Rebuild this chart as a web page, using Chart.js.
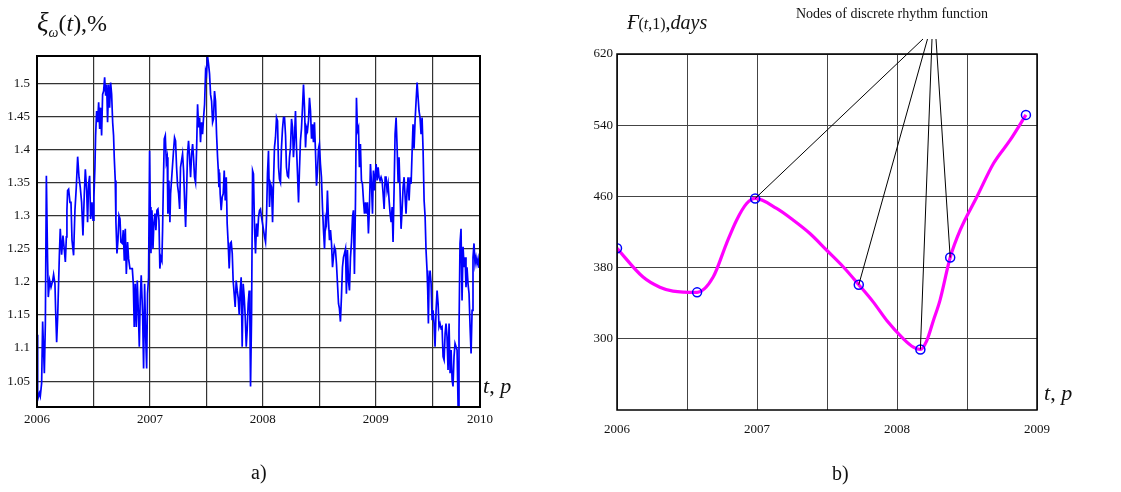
<!DOCTYPE html>
<html>
<head>
<meta charset="utf-8">
<script src="https://cdn.jsdelivr.net/npm/chart.js@4.4.0/dist/chart.umd.min.js"></script>
<style>
  body { margin: 0; background: #fff; }
  #wrap { position: relative; width: 1121px; height: 492px; overflow: hidden; font-family: "Liberation Serif", "Times New Roman", serif; color: #111; }
  canvas { position: absolute; top: 0; }
  .txt { position: absolute; line-height: 1; white-space: nowrap; }
</style>
</head>
<body>
<div id="wrap">
  <canvas id="chartA" width="560" height="492" style="left:0"></canvas>
  <canvas id="chartB" width="561" height="492" style="left:560px"></canvas>

  <div class="txt" style="left:37px;top:9px;font-size:24px"><i style="font-size:27px">ξ</i><sub style="font-size:14px"><i>ω</i></sub>(<i>t</i>),%</div>
  <div class="txt" style="left:483px;top:375px;font-size:22px"><i>t</i>, <i>p</i></div>
  <div class="txt" style="left:251px;top:462px;font-size:20px">a)</div>

  <div class="txt" style="left:627px;top:12px;font-size:20px"><i>Ғ</i><span style="font-size:16px">(<i>t</i>,1)</span>,<i>days</i></div>
  <div class="txt" style="left:796px;top:7px;font-size:14px">Nodes of discrete rhythm function</div>
  <div class="txt" style="left:1044px;top:382px;font-size:22px"><i>t</i>, <i>p</i></div>
  <div class="txt" style="left:832px;top:463px;font-size:20px">b)</div>
</div>

<script>
// ---- chart a): xi_omega(t), % ----
let tA06 = [2006.000,2006.006,2006.021,2006.029,2006.041,2006.050,2006.065,2006.074,2006.083,2006.094,2006.100,2006.112,2006.124,2006.139,2006.147,2006.159,2006.165,2006.174,2006.183,2006.198,
  2006.206,2006.218,2006.230,2006.242,2006.251,2006.260,2006.265,2006.271,2006.280,2006.292,2006.301,2006.310,2006.324,2006.336,2006.348,2006.360,2006.372,2006.383,2006.395,2006.407,
  2006.419,2006.428,2006.440,2006.448,2006.457,2006.466,2006.475,2006.487,2006.496,2006.504,2006.513,2006.519,2006.528,2006.537,2006.546,2006.555,2006.563,2006.572,2006.581,2006.590,
  2006.599,2006.608,2006.617,2006.625,2006.634,2006.643,2006.652,2006.661,2006.670,2006.678,2006.684,2006.693,2006.699,2006.708,2006.717,2006.726,2006.735,2006.743,2006.755,2006.764,
  2006.773,2006.782,2006.791,2006.802,2006.811,2006.823,2006.832,2006.844,2006.853,2006.861,2006.870,2006.879,2006.888,2006.897,2006.906,2006.914,2006.923,2006.935,2006.944,2006.953,
  2006.962,2006.971,2006.979,2006.988];
let vA06 = [1.120,1.022,1.032,1.027,1.047,1.140,1.062,1.137,1.360,1.230,1.177,1.202,1.192,1.202,1.211,1.197,1.157,1.109,1.147,1.240,
  1.280,1.241,1.270,1.248,1.230,1.268,1.308,1.338,1.340,1.320,1.320,1.263,1.240,1.308,1.343,1.389,1.358,1.343,1.320,1.270,
  1.333,1.370,1.338,1.290,1.348,1.360,1.295,1.320,1.293,1.328,1.373,1.421,1.458,1.441,1.471,1.431,1.463,1.421,1.483,1.488,
  1.509,1.481,1.498,1.441,1.498,1.463,1.501,1.483,1.441,1.421,1.388,1.353,1.290,1.243,1.263,1.300,1.295,1.260,1.258,1.278,
  1.232,1.280,1.212,1.260,1.235,1.220,1.220,1.220,1.197,1.132,1.197,1.132,1.202,1.157,1.102,1.172,1.210,1.152,1.069,1.197,
  1.120,1.069,1.182,1.207];

let tA07 = [2006.997,2007.003,2007.009,2007.018,2007.027,2007.035,2007.044,2007.053,2007.062,2007.071,2007.080,2007.088,2007.097,2007.106,2007.112,2007.118,2007.127,2007.136,2007.145,2007.153,
  2007.159,2007.168,2007.177,2007.183,2007.192,2007.201,2007.209,2007.218,2007.227,2007.236,2007.245,2007.254,2007.263,2007.271,2007.280,2007.289,2007.298,2007.307,2007.316,2007.324,
  2007.333,2007.342,2007.351,2007.360,2007.369,2007.378,2007.386,2007.395,2007.404,2007.413,2007.422,2007.431,2007.440,2007.448,2007.457,2007.466,2007.475,2007.484,2007.493,2007.501,
  2007.510,2007.519,2007.528,2007.537,2007.546,2007.555,2007.563,2007.572,2007.581,2007.590,2007.599,2007.605,2007.611,2007.617,2007.622,2007.631,2007.640,2007.649,2007.658,2007.667,
  2007.676,2007.684,2007.693,2007.702,2007.711,2007.720,2007.729,2007.737,2007.746,2007.755,2007.764,2007.773,2007.782,2007.791,2007.799,2007.808,2007.817,2007.826,2007.835,2007.844,
  2007.853,2007.861,2007.870,2007.879,2007.885,2007.891,2007.900,2007.909,2007.917,2007.926,2007.935,2007.944,2007.953,2007.962,2007.971,2007.979,2007.988];
let vA07 = [1.398,1.313,1.243,1.308,1.250,1.288,1.303,1.278,1.308,1.310,1.293,1.220,1.237,1.232,1.278,1.338,1.416,1.421,1.381,1.388,
  1.303,1.353,1.290,1.333,1.355,1.378,1.398,1.418,1.413,1.373,1.345,1.333,1.310,1.373,1.383,1.393,1.368,1.323,1.283,1.333,
  1.393,1.413,1.388,1.358,1.393,1.408,1.388,1.358,1.350,1.398,1.468,1.433,1.448,1.411,1.441,1.423,1.448,1.468,1.519,1.514,
  1.541,1.529,1.514,1.483,1.473,1.441,1.446,1.488,1.473,1.423,1.388,1.370,1.343,1.365,1.333,1.308,1.328,1.333,1.368,1.323,
  1.358,1.288,1.258,1.220,1.258,1.260,1.243,1.202,1.182,1.162,1.202,1.187,1.175,1.150,1.187,1.207,1.102,1.197,1.177,1.147,
  1.102,1.127,1.167,1.187,1.147,1.042,1.147,1.368,1.363,1.283,1.243,1.288,1.268,1.298,1.308,1.310,1.298];

let tA08 = [2008.006,2008.015,2008.024,2008.032,2008.041,2008.050,2008.059,2008.068,2008.077,2008.086,2008.094,2008.103,2008.112,2008.121,2008.130,2008.139,2008.147,2008.156,2008.165,2008.174,
  2008.183,2008.192,2008.201,2008.209,2008.218,2008.227,2008.236,2008.245,2008.254,2008.263,2008.271,2008.280,2008.289,2008.298,2008.307,2008.316,2008.324,2008.333,2008.342,2008.351,
  2008.360,2008.369,2008.378,2008.386,2008.395,2008.404,2008.413,2008.422,2008.431,2008.440,2008.448,2008.457,2008.466,2008.475,2008.484,2008.493,2008.501,2008.510,2008.519,2008.528,
  2008.537,2008.546,2008.555,2008.563,2008.572,2008.581,2008.590,2008.599,2008.608,2008.617,2008.625,2008.634,2008.643,2008.652,2008.661,2008.670,2008.678,2008.687,2008.696,2008.705,
  2008.714,2008.723,2008.732,2008.740,2008.749,2008.758,2008.767,2008.776,2008.785,2008.794,2008.802,2008.811,2008.820,2008.829,2008.838,2008.847,2008.855,2008.864,2008.873,2008.882,
  2008.891,2008.900,2008.909,2008.917,2008.926,2008.935,2008.944,2008.953,2008.962,2008.971,2008.979,2008.988];
let vA08 = [1.278,1.268,1.260,1.293,1.363,1.398,1.313,1.348,1.343,1.290,1.348,1.403,1.418,1.448,1.443,1.373,1.355,1.350,1.403,1.431,
  1.448,1.448,1.421,1.373,1.360,1.358,1.388,1.403,1.446,1.433,1.388,1.416,1.458,1.403,1.363,1.320,1.368,1.413,1.431,1.463,
  1.498,1.463,1.403,1.433,1.428,1.443,1.478,1.458,1.416,1.438,1.411,1.441,1.398,1.345,1.368,1.401,1.408,1.378,1.358,1.313,
  1.278,1.250,1.295,1.288,1.338,1.293,1.263,1.278,1.258,1.222,1.237,1.253,1.248,1.227,1.197,1.167,1.160,1.140,1.177,1.222,
  1.237,1.243,1.250,1.182,1.248,1.202,1.187,1.237,1.260,1.298,1.308,1.212,1.318,1.478,1.428,1.433,1.373,1.408,1.353,1.348,
  1.323,1.303,1.320,1.303,1.320,1.273,1.313,1.378,1.348,1.303,1.368,1.338];

let tA09 = [2008.994,2009.003,2009.012,2009.021,2009.029,2009.038,2009.047,2009.056,2009.065,2009.074,2009.083,2009.091,2009.100,2009.109,2009.118,2009.127,2009.136,2009.145,2009.153,2009.162,
  2009.171,2009.180,2009.189,2009.198,2009.206,2009.215,2009.224,2009.233,2009.242,2009.251,2009.260,2009.268,2009.277,2009.286,2009.295,2009.304,2009.313,2009.322,2009.330,2009.339,
  2009.348,2009.357,2009.366,2009.375,2009.383,2009.392,2009.401,2009.410,2009.419,2009.428,2009.437,2009.445,2009.454,2009.460,2009.466,2009.472,2009.481,2009.490,2009.499,2009.507,
  2009.516,2009.525,2009.534,2009.543,2009.552,2009.560,2009.569,2009.578,2009.587,2009.596,2009.605,2009.614,2009.622,2009.631,2009.640,2009.649,2009.658,2009.667,2009.676,2009.684,
  2009.693,2009.702,2009.711,2009.720,2009.729,2009.737,2009.746,2009.755,2009.764,2009.773,2009.782,2009.791,2009.799,2009.808,2009.817,2009.826,2009.835,2009.844,2009.853,2009.861,
  2009.870,2009.879,2009.888,2009.897,2009.906,2009.914,2009.923];
let vA09 = [1.358,1.378,1.353,1.373,1.358,1.353,1.358,1.353,1.333,1.310,1.358,1.358,1.338,1.348,1.323,1.303,1.290,1.313,1.260,1.338,
  1.423,1.448,1.403,1.350,1.388,1.338,1.280,1.308,1.343,1.358,1.328,1.303,1.338,1.358,1.323,1.358,1.348,1.398,1.438,1.401,
  1.443,1.473,1.501,1.478,1.458,1.448,1.423,1.448,1.398,1.323,1.298,1.248,1.217,1.187,1.137,1.202,1.217,1.197,1.142,1.157,
  1.137,1.102,1.157,1.187,1.167,1.132,1.137,1.130,1.132,1.087,1.082,1.122,1.137,1.117,1.067,1.137,1.062,1.097,1.052,1.042,
  1.087,1.107,1.102,1.097,1.011,1.127,1.258,1.280,1.172,1.253,1.222,1.237,1.192,1.222,1.197,1.182,1.132,1.092,1.157,1.237,
  1.258,1.227,1.237,1.227,1.235,1.222,1.222];

let xGridA = [2006, 2006.5, 2007, 2007.5, 2008, 2008.5, 2009, 2009.5, 2009.923];
let xLabelPosA = [2006, 2007, 2008, 2009, 2009.923];
let xLabelsA = ['2006', '2007', '2008', '2009', '2010'];
let yTicksA = [1.05, 1.1, 1.15, 1.2, 1.25, 1.3, 1.35, 1.4, 1.45, 1.5];
let yLabelsA = ['1.05', '1.1', '1.15', '1.2', '1.25', '1.3', '1.35', '1.4', '1.45', '1.5'];

// ---- chart b): rhythm function, days ----
let nodeT = [2006.000, 2006.572, 2006.987, 2007.727, 2008.167, 2008.380, 2008.921];
let nodeV = [401.7, 352.2, 457.7, 360.8, 288.0, 391.3, 551.6];
let curveT = [2006.000, 2006.186, 2006.306, 2006.400, 2006.572, 2006.687, 2006.782, 2006.854, 2006.926, 2006.987,
  2007.140, 2007.259, 2007.378, 2007.498, 2007.617, 2007.727, 2007.831, 2007.927, 2008.046, 2008.117,
  2008.167, 2008.213, 2008.260, 2008.307, 2008.380, 2008.451, 2008.571, 2008.690, 2008.809, 2008.921];
let curveV = [401.7, 369.4, 358.0, 353.6, 352.2, 369.4, 407.0, 433.3, 452.0, 457.7,
  446.5, 433.3, 418.3, 399.5, 380.7, 360.8, 341.2, 320.6, 300.0, 290.6,
  288.0, 298.0, 320.6, 343.2, 391.3, 422.0, 459.6, 497.2, 523.4, 551.6];
let annotatedNodes = [2, 3, 4, 5];

let xGridB = [2006, 2006.5, 2007, 2007.5, 2008, 2008.5, 2009];
let xLabelPosB = [2006, 2007, 2008, 2009];
let xLabelsB = ['2006', '2007', '2008', '2009'];
let yTicksB = [300, 380, 460, 540, 620];

Chart.defaults.font.family = '"Liberation Serif", "Times New Roman", serif';
Chart.defaults.font.size = 13;
Chart.defaults.color = '#111';

const framePlugin = {
  id: 'frame',
  afterDatasetsDraw(chart, args, opts) {
    const a = chart.chartArea, ctx = chart.ctx;
    ctx.save();
    ctx.strokeStyle = '#000';
    ctx.lineWidth = opts.width || 1.5;
    ctx.strokeRect(a.left, a.top, a.right - a.left, a.bottom - a.top);
    ctx.restore();
  }
};

// leader lines from the caption to the marked nodes
const leaderPlugin = {
  id: 'leaders',
  afterDatasetsDraw(chart) {
    const meta = chart.getDatasetMeta(0);
    const anchorsX = [363, 367.5, 372, 376];
    const anchorY = 39;
    const ctx = chart.ctx;
    ctx.save();
    ctx.strokeStyle = '#000';
    ctx.lineWidth = 1;
    annotatedNodes.forEach((n, i) => {
      const p = meta.data[n];
      ctx.beginPath();
      ctx.moveTo(anchorsX[i], anchorY);
      ctx.lineTo(p.x, p.y);
      ctx.stroke();
    });
    ctx.restore();
  }
};

function labelFor(positions, labels) {
  return function (value) {
    const i = positions.findIndex(p => Math.abs(p - value) < 1e-6);
    return i >= 0 ? labels[i] : '';
  };
}

function createCharts() {
  const tA = [...tA06, ...tA07, ...tA08, ...tA09];
  const vA = [...vA06, ...vA07, ...vA08, ...vA09];

  new Chart(document.getElementById('chartA'), {
    type: 'line',
    data: {
      datasets: [{
        data: tA.map((t, i) => ({ x: t, y: vA[i] })),
        borderColor: '#0000ff',
        borderWidth: 1.7,
        pointRadius: 0,
        tension: 0
      }]
    },
    options: {
      responsive: false,
      animation: false,
      layout: { padding: { top: 56, left: 0, right: 80, bottom: 55 } },
      plugins: { legend: { display: false }, tooltip: { enabled: false }, frame: { width: 2 } },
      scales: {
        x: {
          type: 'linear', min: 2006, max: 2009.923,
          afterBuildTicks: s => { s.ticks = xGridA.map(v => ({ value: v })); },
          afterFit: s => { s.height = 30; },
          ticks: { autoSkip: false, maxRotation: 0, padding: 5, callback: labelFor(xLabelPosA, xLabelsA) },
          grid: { color: '#333', lineWidth: 1.2, drawTicks: false },
          border: { display: false }
        },
        y: {
          min: 1.011, max: 1.541,
          afterBuildTicks: s => { s.ticks = yTicksA.map(v => ({ value: v })); },
          afterFit: s => { s.width = 37; },
          ticks: { padding: 7, callback: labelFor(yTicksA, yLabelsA) },
          grid: { color: '#333', lineWidth: 1.3, drawTicks: false },
          border: { display: false }
        }
      }
    },
    plugins: [framePlugin]
  });

  new Chart(document.getElementById('chartB'), {
    type: 'line',
    data: {
      datasets: [{
        data: nodeT.map((t, i) => ({ x: t, y: nodeV[i] })),
        showLine: false,
        pointStyle: 'circle',
        pointRadius: 4.5,
        pointBorderWidth: 1.5,
        pointBorderColor: '#0000ff',
        pointBackgroundColor: 'rgba(0,0,0,0)'
      }, {
        data: curveT.map((t, i) => ({ x: t, y: curveV[i] })),
        borderColor: '#ff00ff',
        borderWidth: 3.2,
        pointRadius: 0,
        cubicInterpolationMode: 'monotone'
      }]
    },
    options: {
      responsive: false,
      animation: false,
      layout: { padding: { top: 54, left: 0, right: 84, bottom: 52 } },
      plugins: { legend: { display: false }, tooltip: { enabled: false }, frame: { width: 1.5 } },
      scales: {
        x: {
          type: 'linear', min: 2006, max: 2009,
          afterBuildTicks: s => { s.ticks = xGridB.map(v => ({ value: v })); },
          afterFit: s => { s.height = 30; },
          ticks: { autoSkip: false, maxRotation: 0, padding: 12, callback: labelFor(xLabelPosB, xLabelsB) },
          grid: { color: '#444', lineWidth: 1, drawTicks: false },
          border: { display: false }
        },
        y: {
          min: 220, max: 620,
          afterBuildTicks: s => { s.ticks = yTicksB.map(v => ({ value: v })); },
          afterFit: s => { s.width = 57; },
          ticks: { padding: 4, callback: v => String(v) },
          grid: { color: '#444', lineWidth: 1, drawTicks: false },
          border: { display: false }
        }
      }
    },
    plugins: [framePlugin, leaderPlugin]
  });
}

window.onload = createCharts;
</script>
</body>
</html>
